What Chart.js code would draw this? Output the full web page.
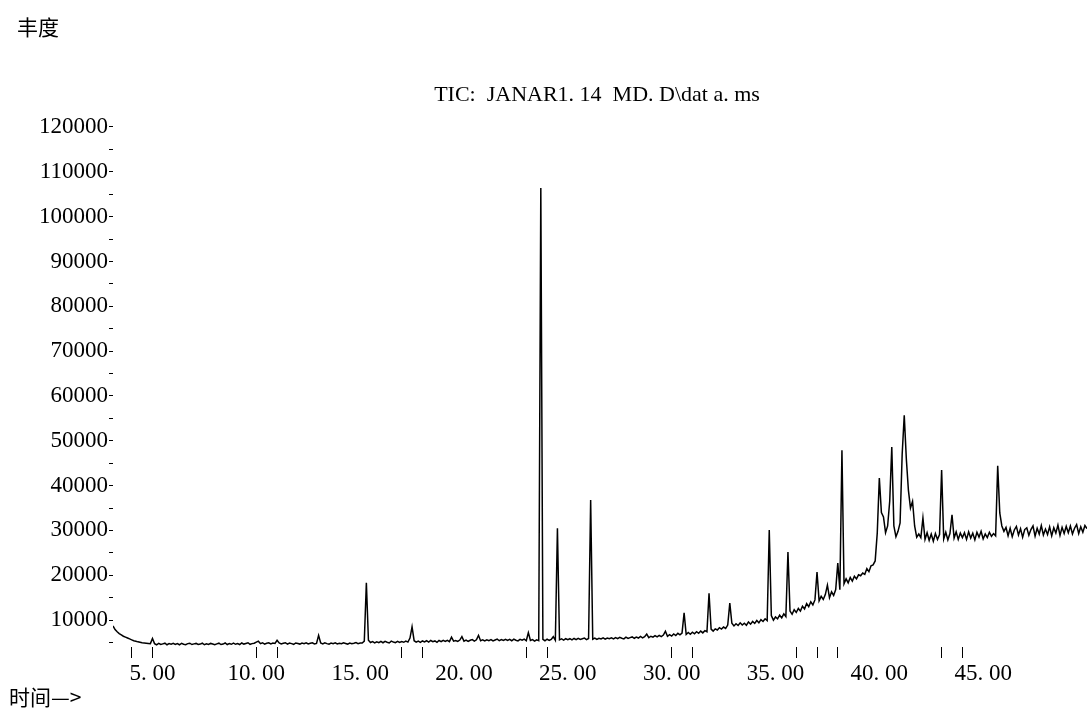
<!DOCTYPE html>
<html>
<head>
<meta charset="utf-8">
<script src="https://cdn.jsdelivr.net/npm/chart.js@4.4.1/dist/chart.umd.min.js"></script>
<style>
  html, body { margin: 0; padding: 0; background: #fff; }
  canvas { display: block; }
</style>
</head>
<body>
<canvas id="tic" width="1087" height="713"></canvas>
<script>
// TIC trace, one reading every 0.1 min starting at 3.1 min
const firstScan = 3.1;
const scanStep = 0.1;

// 3.1 - 13.0 min
const ticEarly = [
  8700, 7900, 7400, 7000, 6700, 6400, 6200, 6000, 5800, 5600,
  5400, 5300, 5150, 5050, 4950, 4900, 4850, 4800, 4750, 5900,
  4750, 4500, 4800, 4550, 4700, 4850, 4500, 4750, 4600, 4800,
  4550, 4750, 4500, 4800, 4600, 4500, 4750, 4850, 4550, 4700,
  4800, 4550, 4650, 4850, 4500, 4700, 4550, 4800, 4650, 4500,
  4700, 4850, 4550, 4650, 4900, 4550, 4750, 4600, 4850, 4600,
  4750, 4550, 4900, 4650, 4800, 4950, 4600, 4750, 4850, 5100,
  5300, 4750, 4950, 4650, 4850, 4950, 4700, 4900, 4800, 5500,
  4900, 4700, 4850, 4950, 4650, 4900, 4750, 4600, 4900, 4800,
  4650, 4900, 4750, 4950, 4700, 4850, 4950, 4700, 4800, 6600
];
// 13.1 - 23.0 min
const ticMid = [
  4900, 4700, 4950, 4750, 4650, 4900, 4750, 4950, 4700, 4850,
  4750, 4950, 4800, 4650, 4900, 4750, 4850, 5000, 4750, 4900,
  4900, 5300, 18300, 5500, 5000, 5200, 4900, 5150, 4950, 5250,
  4950, 5250, 5050, 4900, 5300, 5100, 4950, 5250, 5000, 5200,
  5050, 5300, 5100, 6000, 8500, 5400, 5100, 5300, 5050, 5350,
  5150, 5400, 5100, 5450, 5200, 5350, 5050, 5450, 5200, 5500,
  5250, 5500, 5200, 6200, 5300, 5450, 5250, 5550, 6300, 5300,
  5550, 5250, 5500, 5650, 5300, 5600, 6600, 5400, 5600, 5350,
  5600, 5400, 5650, 5350, 5550, 5750, 5400, 5650, 5450, 5700,
  5450, 5700, 5400, 5750, 5500, 5350, 5700, 5500, 5750, 5400
];
// 23.1 - 33.0 min
const ticLate = [
  7200, 5450, 5650, 5300, 5600, 5400, 106400, 5700, 5400, 5750,
  5450, 5700, 6300, 5500, 30500, 5600, 5800, 5550, 5850, 5650,
  5850, 5600, 5900, 5650, 5950, 5700, 5850, 6000, 5650, 5900,
  36800, 5750, 6000, 5700, 5950, 5800, 6050, 5750, 6000, 5850,
  6050, 5800, 6100, 5850, 6150, 5950, 5800, 6200, 5900, 6100,
  6250, 5950, 6200, 6000, 6350, 6050, 6300, 6900, 6100, 6400,
  6200, 6550, 6250, 6600, 6300, 6650, 7500, 6400, 6750, 6450,
  6900, 6550, 7050, 6700, 7100, 11600, 6800, 7250, 6850, 7300,
  6950, 7400, 7050, 7550, 7150, 7650, 7400, 16000, 8000, 7550,
  8050, 7800, 8300, 8000, 8450, 8150, 8900, 13800, 9300, 8700
];
// 33.1 - 43.0 min
const ticRise = [
  9200, 8800, 9400, 8900, 9300, 8850, 9600, 9100, 9700, 9250,
  9900, 9400, 10100, 9700, 10300, 9900, 30100, 11000, 10000, 10700,
  10300, 11100, 10500, 11400, 10800, 25200, 12000, 11300, 12300, 11700,
  12600, 12000, 13100, 12500, 13700, 13000, 14100, 13400, 14500, 20700,
  14300, 15300, 14600, 15700, 17800, 15000, 16300, 15500, 16800, 22700,
  16800, 47900, 18100, 19200, 18300, 19500, 18700, 19800, 19200, 20100,
  19900, 20500, 20200, 21500, 20800, 22100, 22300, 23200, 29400, 41700,
  34000, 33000, 29500, 31000, 36500, 48600, 31000, 28600, 29800, 31700,
  47000, 55700, 46000, 39000, 35000, 36500, 31000, 28500, 29200, 28400,
  32800, 28000, 29500, 27800, 29200, 27600, 29300, 28000, 29100, 43500
];
// 43.1 - 50.0 min
const ticPlateau = [
  28100, 29600, 27900, 29300, 33500, 28300, 29700, 28000, 29400, 28400,
  29500, 28000, 29700, 28300, 29400, 27900, 29600, 28500, 29800, 28100,
  29200, 28400, 29600, 28700, 29300, 28800, 44400, 33900, 31000, 29800,
  30700, 28800, 30500, 28600, 30100, 30900, 29000, 30400, 28500, 30200,
  30600, 28900, 30200, 31000, 28700, 30500, 29200, 31100, 29000, 30300,
  29100, 30800, 28800, 30600, 29400, 31200, 28900, 30700, 29300, 30900,
  29500, 31000, 29200, 30500, 31300, 29300, 30800, 29600, 31100, 30400
];

// axis ticks
const xLabelTicks = [5, 10, 15, 20, 25, 30, 35, 40, 45];
const xMarkTicks = [4, 5, 10, 11, 17, 18, 23, 24, 30, 31, 36, 37, 38, 43, 44];
const yTicks = [5000, 10000, 15000, 20000, 25000, 30000, 35000, 40000, 45000, 50000, 55000, 60000,
  65000, 70000, 75000, 80000, 85000, 90000, 95000, 100000, 105000, 110000, 115000, 120000];

const chartTitle = 'TIC:  JANAR1. 14  MD. D\\dat a. ms';
const yTitle = '丰度';
const xTitle = '时间—>';

const ticAll = [].concat(ticEarly, ticMid, ticLate, ticRise, ticPlateau);
const points = ticAll.map((v, i) => ({ x: +(firstScan + i * scanStep).toFixed(2), y: v }));

const xTickVals = Array.from(new Set(xMarkTicks.concat(xLabelTicks))).sort((a, b) => a - b);

const serif = '"Liberation Serif", "DejaVu Serif", serif';

const textPlugin = {
  id: 'gcText',
  afterDraw(chart) {
    const { ctx, chartArea } = chart;
    ctx.save();
    ctx.fillStyle = '#000';
    ctx.textBaseline = 'middle';
    ctx.font = '22px ' + serif;
    ctx.textAlign = 'center';
    ctx.fillText(chartTitle, (chartArea.left + chartArea.right) / 2 - 3, chartArea.top - 23);
    ctx.font = '21px "Noto Sans CJK SC", sans-serif';
    ctx.textAlign = 'left';
    ctx.fillText(yTitle, 17, 27);
    ctx.fillText(xTitle, 9, 697);
    ctx.restore();
  }
};

new Chart(document.getElementById('tic'), {
  type: 'line',
  data: {
    datasets: [{
      data: points,
      borderColor: '#000',
      borderWidth: 1.5,
      pointRadius: 0,
      tension: 0,
      fill: false
    }]
  },
  options: {
    responsive: false,
    animation: false,
    devicePixelRatio: 1,
    layout: { padding: { top: 118, left: 0, right: 0, bottom: 0 } },
    plugins: { legend: { display: false }, tooltip: { enabled: false }, title: { display: false } },
    scales: {
      x: {
        type: 'linear',
        min: 3.1,
        max: 50.0,
        afterFit: s => { s.height = 66; },
        afterBuildTicks: s => { s.ticks = xTickVals.map(v => ({ value: v })); },
        border: { display: false },
        grid: {
          drawOnChartArea: false,
          tickLength: 11,
          tickWidth: 1,
          tickColor: c => (c.tick && xMarkTicks.includes(c.tick.value)) ? '#000' : 'rgba(0,0,0,0)'
        },
        ticks: {
          autoSkip: false,
          maxRotation: 0,
          padding: 2,
          color: '#000',
          font: { family: serif, size: 23 },
          callback: v => xLabelTicks.includes(v) ? v.toFixed(2).replace('.', '. ') : ''
        }
      },
      y: {
        min: 4000,
        max: 122000,
        afterFit: s => { s.width = 113; },
        afterBuildTicks: s => { s.ticks = yTicks.map(v => ({ value: v })); },
        border: { display: false },
        grid: { drawOnChartArea: false, tickLength: 4, tickWidth: 1, tickColor: '#000' },
        ticks: {
          autoSkip: false,
          padding: 1,
          color: '#000',
          font: { family: serif, size: 23 },
          callback: v => v % 10000 === 0 ? String(v) : ''
        }
      }
    }
  },
  plugins: [textPlugin]
});
</script>
</body>
</html>
